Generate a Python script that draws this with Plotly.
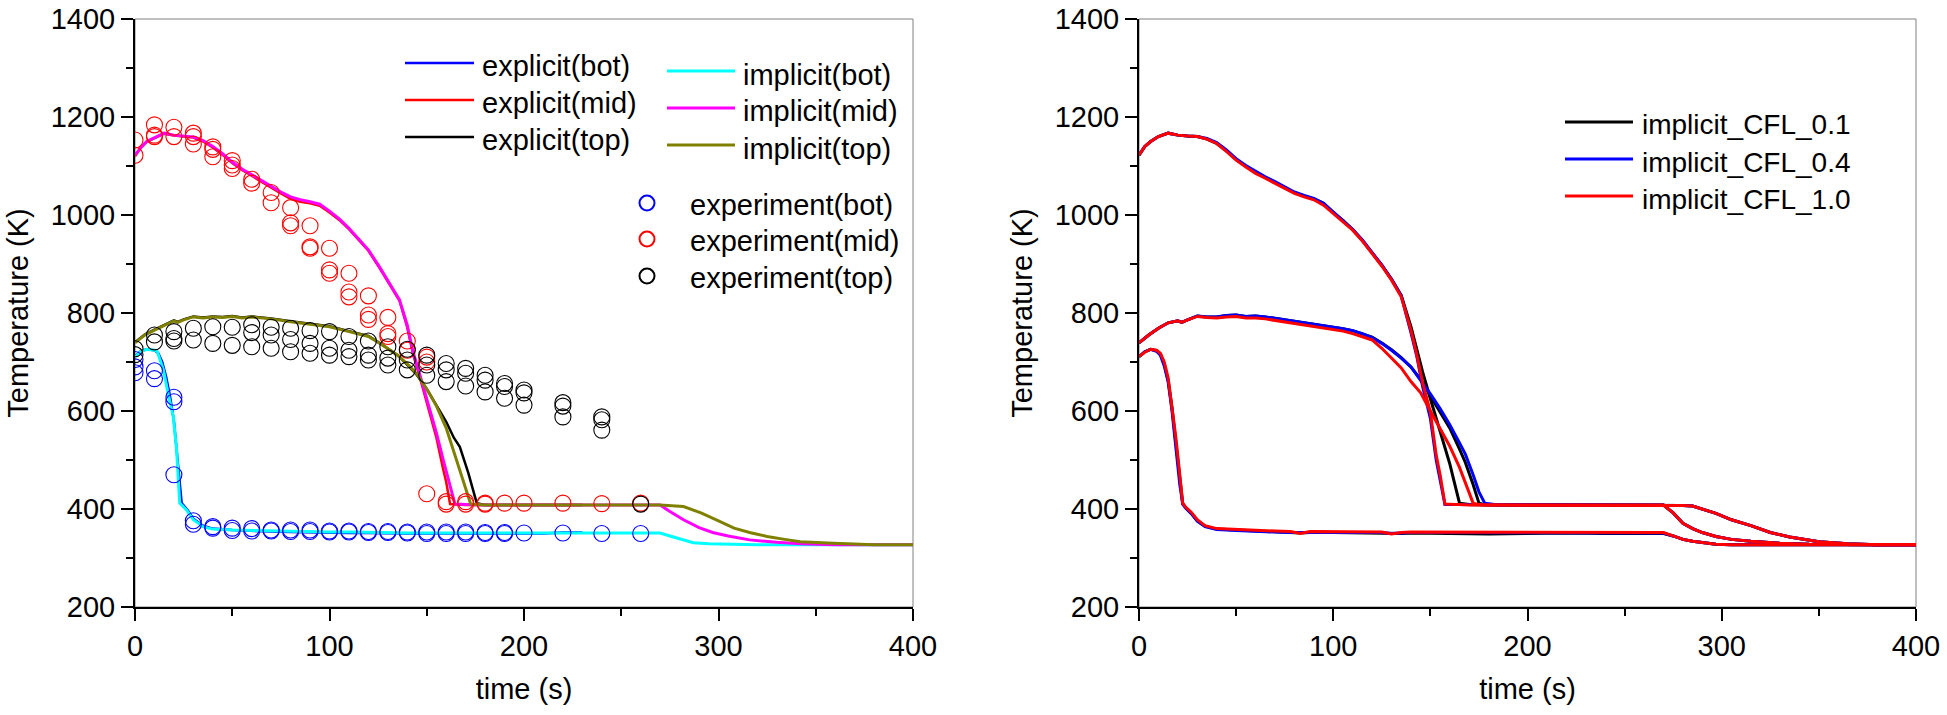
import plotly.graph_objects as go

# ---------------- LEFT PANEL DATA ----------------
# explicit (bot)
t_ex_bot = [0, 3, 6, 10, 12, 14, 16, 18, 20, 22, 24, 27, 30, 35, 40, 50, 60, 70, 80, 90, 100, 110, 120, 130, 140, 150, 160, 170, 180, 190, 200, 210, 220, 230]
T_ex_bot = [712, 722, 726, 724, 718, 700, 670, 630, 580, 500, 412, 398, 380, 366, 360, 357, 355, 354, 353, 352, 352, 351, 351, 350, 350, 350, 350, 349, 349, 349, 349, 350, 352, 352]

# explicit (mid)
t_ex_mid = [0, 3, 6, 10, 15, 20, 25, 30, 35, 40, 45, 50, 55, 60, 65, 70, 75, 80, 85, 90, 95, 100, 105, 110, 115, 120, 126, 130, 136, 140, 143, 146, 150, 152, 155, 158.5, 160, 162, 165, 170, 180, 200, 220, 230]
T_ex_mid = [1120, 1137, 1149, 1157, 1166, 1162, 1160, 1158, 1150, 1138, 1123, 1106, 1092, 1080, 1067, 1055, 1044, 1033, 1027, 1024, 1019, 1005, 990, 971, 950, 927, 890, 864, 825, 770, 715, 675, 615, 585, 545, 480, 455, 410, 409, 408, 408, 408, 408, 408]

# explicit (top)
t_ex_top = [0, 5, 10, 15, 20, 22, 25, 30, 35, 40, 45, 50, 55, 60, 70, 80, 90, 100, 110, 120, 126, 130, 135, 141, 145, 150, 155, 160, 164, 167, 171.4, 175.7, 180, 200, 220, 230]
T_ex_top = [740, 756, 766, 776, 785, 782, 787, 793, 791, 793, 792, 794, 791, 793, 789, 783, 778, 773, 763, 753, 738, 728, 714, 690, 673, 645, 612, 578, 545, 527, 473, 412, 408, 408, 408, 408]

# implicit (bot)
t_im_bot = [0, 3, 6, 10, 11.5, 14.6, 17, 19.7, 21.4, 23, 26.5, 30, 35, 40, 50, 60, 70, 80, 90, 100, 110, 120, 130, 140, 150, 160, 180, 200, 220, 240, 260, 270, 275, 280, 287, 295, 305, 320, 340, 360, 380, 400]
T_im_bot = [710, 722, 726, 724, 721, 684, 636, 588, 520, 412, 398, 378, 364, 359, 357, 356, 355, 354, 353, 353, 353, 352, 352, 351, 351, 351, 351, 351, 351, 351, 351, 351, 345, 339, 331, 329, 328, 327, 327, 327, 327, 327]

# implicit (mid)
t_im_mid = [0, 3, 6, 10, 15, 20, 25, 30, 35, 40, 45, 50, 55, 60, 65, 70, 75, 80, 85, 90, 95, 100, 105, 110, 115, 120, 126, 130, 136, 140, 143, 146, 150, 152, 155, 158.5, 160, 162, 164.5, 170, 180, 200, 220, 240, 260, 270, 275, 282, 290, 297, 305, 316, 330, 342, 360, 380, 400]
T_im_mid = [1122, 1138, 1150, 1158, 1167, 1163, 1161, 1159, 1152, 1140, 1125, 1108, 1094, 1082, 1070, 1058, 1047, 1037, 1031, 1027, 1022, 1008, 992, 973, 952, 929, 892, 866, 827, 775, 720, 680, 625, 600, 555, 500, 478, 450, 410, 409, 408, 408, 408, 408, 408, 408, 395, 378, 362, 352, 345, 337, 332, 329, 327, 327, 327]

# implicit (top)
t_im_top = [0, 5, 10, 15, 20, 22, 25, 30, 35, 40, 45, 50, 55, 60, 70, 80, 90, 100, 110, 120, 126, 130, 135, 141, 145, 150, 155, 160, 165.4, 170, 172.6, 180, 200, 220, 240, 260, 270, 282, 291, 300, 308, 316, 325, 334, 342, 359, 380, 400]
T_im_top = [739, 755, 765, 775, 784, 781, 786, 792, 790, 792, 791, 793, 790, 792, 788, 782, 777, 772, 762, 752, 738, 728, 714, 692, 675, 645, 610, 565, 500, 445, 410, 408, 408, 408, 408, 408, 408, 405, 392, 376, 361, 352, 344, 338, 333, 330, 327, 327]

# experiment (bot)
t_exp_bot = [0, 0, 0, 10, 10, 20, 20, 20, 30, 30, 40, 40, 50, 50, 60, 60, 70, 70, 80, 80, 90, 90, 100, 100, 110, 110, 120, 120, 130, 130, 140, 140, 150, 150, 160, 160, 170, 170, 180, 180, 190, 190, 200, 220, 240, 260]
T_exp_bot = [705, 690, 678, 682, 666, 628, 619, 470, 376, 369, 364, 361, 361, 356, 360, 355, 357, 355, 357, 354, 357, 354, 355, 353, 355, 353, 354, 352, 354, 352, 353, 351, 353, 350, 353, 350, 353, 350, 352, 350, 352, 350, 351, 351, 350, 350]

# experiment (mid)
t_exp_mid = [0, 0, 10, 10, 10, 20, 20, 30, 30, 30, 40, 40, 40, 50, 50, 50, 60, 60, 70, 70, 80, 80, 80, 90, 90, 90, 100, 100, 100, 110, 110, 110, 120, 120, 120, 130, 130, 130, 140, 140, 150, 150, 150, 160, 160, 170, 170, 180, 180, 190, 200, 220, 240, 260]
T_exp_mid = [1153, 1122, 1184, 1163, 1160, 1179, 1160, 1167, 1160, 1145, 1139, 1134, 1119, 1111, 1102, 1095, 1073, 1065, 1046, 1025, 1015, 984, 978, 978, 935, 932, 932, 888, 881, 881, 843, 833, 835, 796, 787, 791, 758, 752, 743, 724, 710, 700, 431, 415, 410, 415, 410, 412, 410, 412, 412, 412, 411, 412]

# experiment (top)
t_exp_top = [0, 0, 10, 10, 20, 20, 20, 30, 30, 40, 40, 50, 50, 60, 60, 60, 70, 70, 70, 80, 80, 80, 90, 90, 90, 100, 100, 100, 110, 110, 110, 120, 120, 120, 130, 130, 130, 140, 140, 140, 150, 150, 150, 160, 160, 160, 170, 170, 170, 180, 180, 180, 190, 190, 190, 200, 200, 200, 220, 220, 220, 240, 240, 240, 260]
T_exp_top = [727, 715, 755, 741, 762, 748, 743, 769, 745, 772, 738, 771, 734, 776, 760, 731, 771, 755, 728, 769, 746, 721, 764, 738, 718, 762, 728, 714, 752, 724, 711, 743, 714, 704, 731, 708, 694, 726, 704, 684, 714, 694, 673, 697, 684, 660, 687, 677, 651, 673, 663, 639, 656, 650, 626, 643, 637, 612, 617, 610, 588, 588, 582, 561, 410]

# ---------------- RIGHT PANEL DATA ----------------
t_r_bot = [0, 3, 6, 9, 11, 13, 15, 17, 19, 21, 22.5, 24, 27, 30, 34, 40, 50, 60, 70, 78, 83, 88, 95, 100, 110, 120, 125, 130, 135, 140, 150, 160, 180, 200, 220, 240, 260, 270, 275, 280, 285, 290, 297, 305, 320, 340, 360, 380, 400]
T_r_bot_01 = [711, 721, 726, 723, 716, 696, 662, 606, 535, 460, 411, 403, 391, 376, 365, 359, 357, 355, 353, 351, 351, 352, 353, 352, 351, 351, 351, 350, 350, 351, 351, 350, 349, 350, 351, 350, 350, 350, 345, 338, 334, 331, 328, 327, 327, 327, 327, 327, 327]
T_r_bot_04 = [711, 721, 726, 722, 714, 692, 660, 600, 525, 450, 410, 402, 390, 375, 364, 358, 356, 354, 353, 352, 352, 352, 353, 353, 352, 352, 352, 350, 351, 352, 352, 352, 351, 351, 351, 351, 351, 351, 345, 338, 334, 331, 328, 327, 327, 327, 327, 327, 327]
T_r_bot_10 = [711, 720, 726, 724, 718, 700, 668, 612, 545, 470, 412, 404, 393, 378, 366, 360, 358, 357, 355, 354, 350, 354, 354, 354, 353, 353, 353, 349, 352, 353, 353, 353, 352, 352, 352, 352, 352, 352, 345, 338, 334, 331, 328, 327, 327, 327, 327, 327, 327]

t_r_mid = [0, 3, 6, 10, 15, 20, 25, 30, 35, 40, 45, 50, 55, 60, 65, 70, 75, 80, 85, 90, 95, 100, 105, 110, 115, 120, 125, 130, 135, 140, 143, 146, 150, 153, 155, 157.5, 160, 162.5, 165, 170, 180, 200, 220, 240, 260, 270, 275, 280, 285, 290, 297, 305, 315, 330, 345, 360, 380, 400]
T_r_mid_01 = [1122, 1140, 1150, 1160, 1167, 1163, 1161, 1160, 1155, 1146, 1131, 1113, 1100, 1087, 1077, 1067, 1056, 1046, 1039, 1033, 1024, 1005, 989, 970, 948, 923, 897, 869, 836, 772, 725, 680, 625, 585, 560, 528, 492, 452, 412, 409, 408, 408, 408, 408, 408, 408, 392, 371, 360, 352, 344, 338, 334, 330, 328, 327, 327, 327]
T_r_mid_04 = [1122, 1140, 1150, 1160, 1167, 1163, 1161, 1160, 1156, 1148, 1133, 1115, 1101, 1089, 1078, 1068, 1057, 1047, 1040, 1034, 1024, 1006, 990, 971, 949, 924, 898, 869, 835, 760, 712, 650, 585, 500, 460, 409, 409, 409, 409, 408, 408, 408, 408, 408, 408, 408, 392, 371, 360, 352, 344, 338, 334, 330, 328, 327, 327, 327]
T_r_mid_10 = [1122, 1140, 1150, 1160, 1167, 1163, 1161, 1160, 1155, 1146, 1130, 1112, 1098, 1085, 1075, 1065, 1054, 1044, 1037, 1031, 1020, 1003, 988, 969, 947, 922, 896, 867, 833, 765, 715, 658, 598, 510, 470, 410, 409, 409, 409, 408, 408, 408, 408, 408, 408, 408, 392, 371, 360, 352, 344, 338, 334, 330, 328, 327, 327, 327]

t_r_top = [0, 5, 10, 15, 20, 22, 25, 30, 35, 40, 45, 50, 55, 60, 65, 70, 75, 80, 85, 90, 95, 100, 105, 110, 115, 120, 125, 130, 135, 140, 145, 150, 155, 160, 165, 168, 172, 175, 178, 185, 200, 220, 240, 260, 270, 280, 285, 290, 297, 305, 315, 325, 335, 350, 365, 380, 400]
T_r_top_01 = [739, 755, 769, 780, 784, 781, 786, 794, 792, 792, 795, 796, 793, 794, 792, 789, 787, 784, 781, 777, 775, 772, 768, 764, 758, 751, 739, 725, 709, 690, 664, 630, 598, 565, 522, 495, 450, 412, 409, 408, 408, 408, 408, 408, 408, 407, 406, 400, 391, 378, 366, 352, 343, 333, 329, 327, 327]
T_r_top_04 = [739, 755, 769, 780, 784, 781, 786, 794, 792, 792, 795, 796, 793, 794, 792, 789, 787, 784, 781, 777, 775, 772, 768, 764, 758, 750, 738, 724, 708, 690, 663, 635, 605, 572, 535, 512, 470, 435, 412, 408, 408, 408, 408, 408, 408, 407, 406, 400, 391, 378, 366, 352, 343, 333, 329, 327, 327]
T_r_top_10 = [739, 755, 769, 780, 784, 781, 786, 793, 791, 790, 792, 793, 790, 790, 788, 785, 782, 779, 776, 772, 770, 767, 763, 758, 752, 745, 728, 708, 688, 660, 637, 600, 565, 528, 485, 455, 412, 409, 408, 408, 408, 408, 408, 408, 408, 407, 406, 400, 391, 378, 366, 352, 343, 333, 329, 327, 327]

# legend labels
left_line_labels = ["explicit(bot)", "explicit(mid)", "explicit(top)"]
left_line_colors = ["#0000FF", "#FF0000", "#000000"]
left_imp_labels = ["implicit(bot)", "implicit(mid)", "implicit(top)"]
left_imp_colors = ["#00FFFF", "#FF00FF", "#808000"]
exp_labels = ["experiment(bot)", "experiment(mid)", "experiment(top)"]
exp_colors = ["#0000FF", "#FF0000", "#000000"]
cfl_labels = ["implicit_CFL_0.1", "implicit_CFL_0.4", "implicit_CFL_1.0"]
cfl_colors = ["#000000", "#0000FF", "#FF0000"]

FONT = "Arial, 'Liberation Sans', sans-serif"
W, H = 1947, 715

fig = go.Figure()

def line(x, y, color, width, name, xa, ya, group=None):
    fig.add_trace(go.Scatter(x=x, y=y, mode="lines", line=dict(color=color, width=width),
                             name=name, xaxis=xa, yaxis=ya, showlegend=False,
                             legendgroup=group or name))

def circles(x, y, color, name):
    fig.add_trace(go.Scatter(x=x, y=y, mode="markers", name=name, xaxis="x", yaxis="y",
                             showlegend=False,
                             marker=dict(symbol="circle-open", size=16, color=color,
                                         line=dict(width=1.1, color=color))))

# left panel
line(t_ex_bot, T_ex_bot, left_line_colors[0], 2.5, left_line_labels[0], "x", "y")
line(t_ex_mid, T_ex_mid, left_line_colors[1], 2.5, left_line_labels[1], "x", "y")
line(t_ex_top, T_ex_top, left_line_colors[2], 2.5, left_line_labels[2], "x", "y")
line(t_im_bot, T_im_bot, left_imp_colors[0], 3, left_imp_labels[0], "x", "y")
line(t_im_mid, T_im_mid, left_imp_colors[1], 3, left_imp_labels[1], "x", "y")
line(t_im_top, T_im_top, left_imp_colors[2], 3, left_imp_labels[2], "x", "y")
circles(t_exp_bot, T_exp_bot, exp_colors[0], exp_labels[0])
circles(t_exp_mid, T_exp_mid, exp_colors[1], exp_labels[1])
circles(t_exp_top, T_exp_top, exp_colors[2], exp_labels[2])

# right panel
for name, color, bot, mid, top in zip(cfl_labels, cfl_colors,
                                      [T_r_bot_01, T_r_bot_04, T_r_bot_10],
                                      [T_r_mid_01, T_r_mid_04, T_r_mid_10],
                                      [T_r_top_01, T_r_top_04, T_r_top_10]):
    line(t_r_bot, bot, color, 3, name, "x2", "y2", group=name)
    line(t_r_mid, mid, color, 3, name, "x2", "y2", group=name)
    line(t_r_top, top, color, 3, name, "x2", "y2", group=name)

ydom = [1 - 607 / H, 1 - 19 / H]
axis_common = dict(
    showline=True, linecolor="black", linewidth=2, mirror=False,
    ticks="outside", ticklen=12, tickwidth=2, tickcolor="black",
    showgrid=False, zeroline=False, automargin=False,
    tickfont=dict(family=FONT, size=29, color="black"),
)
xcommon = dict(axis_common, range=[0, 400], tickmode="array", tickvals=[0, 100, 200, 300, 400],
               minor=dict(tickvals=[50, 150, 250, 350], ticklen=7, tickwidth=2, tickcolor="black", ticks="outside"),
               title=dict(text="time (s)", font=dict(family=FONT, size=29, color="black"), standoff=18))
ycommon = dict(axis_common, range=[200, 1400], tickmode="array", tickvals=[200, 400, 600, 800, 1000, 1200, 1400],
               minor=dict(tickvals=[300, 500, 700, 900, 1100, 1300], ticklen=7, tickwidth=2, tickcolor="black", ticks="outside"),
               title=dict(text="Temperature (K)", font=dict(family=FONT, size=29, color="black"), standoff=14))

# ----- legend (drawn as shapes + text in paper space) -----
shapes = [
    dict(type="rect", xref="x domain", yref="y domain", x0=0, x1=1, y0=0, y1=1,
         line=dict(color="#808080", width=1), layer="below"),
    dict(type="rect", xref="x2 domain", yref="y2 domain", x0=0, x1=1, y0=0, y1=1,
         line=dict(color="#808080", width=1), layer="below"),
]
annotations = []

def px(x):
    return x / W

def py(y):
    return 1 - y / H

def legend_block(labels, colors, x0, x1, ys, xt, size, width, text_dy):
    for lab, col, yy in zip(labels, colors, ys):
        shapes.append(dict(type="line", xref="paper", yref="paper", x0=px(x0), x1=px(x1),
                           y0=py(yy), y1=py(yy), line=dict(color=col, width=width)))
        annotations.append(dict(xref="paper", yref="paper", x=px(xt), y=py(yy + text_dy),
                                xanchor="left", yanchor="middle", showarrow=False, text=lab,
                                font=dict(family=FONT, size=size, color="black"), borderpad=0))

legend_block(left_line_labels, left_line_colors, 405, 474, [63, 100, 137], 481, 29, 2.5, 3)
legend_block(left_imp_labels, left_imp_colors, 667, 735, [71, 108, 145], 742, 29, 3, 3.5)
legend_block(cfl_labels, cfl_colors, 1565, 1633, [122, 159, 196], 1641, 28, 3, 3)

for lab, col, yy in zip(exp_labels, exp_colors, [203, 239, 276]):
    shapes.append(dict(type="circle", xref="paper", yref="paper", xsizemode="pixel", ysizemode="pixel",
                       xanchor=px(647), yanchor=py(yy), x0=-7.5, x1=7.5, y0=-7.5, y1=7.5,
                       line=dict(color=col, width=2)))
    annotations.append(dict(xref="paper", yref="paper", x=px(689), y=py(yy + 1.5),
                            xanchor="left", yanchor="middle", showarrow=False, text=lab,
                            font=dict(family=FONT, size=29, color="black"), borderpad=0))

fig.update_layout(
    width=W, height=H, margin=dict(l=0, r=0, t=0, b=0, autoexpand=False),
    paper_bgcolor="white", plot_bgcolor="white", showlegend=False,
    xaxis=dict(xcommon, domain=[135 / W, 913 / W], anchor="y"),
    yaxis=dict(ycommon, domain=ydom, anchor="x"),
    xaxis2=dict(xcommon, domain=[1139 / W, 1916 / W], anchor="y2"),
    yaxis2=dict(ycommon, domain=ydom, anchor="x2"),
    shapes=shapes, annotations=annotations,
)

fig.write_html("out.html")
